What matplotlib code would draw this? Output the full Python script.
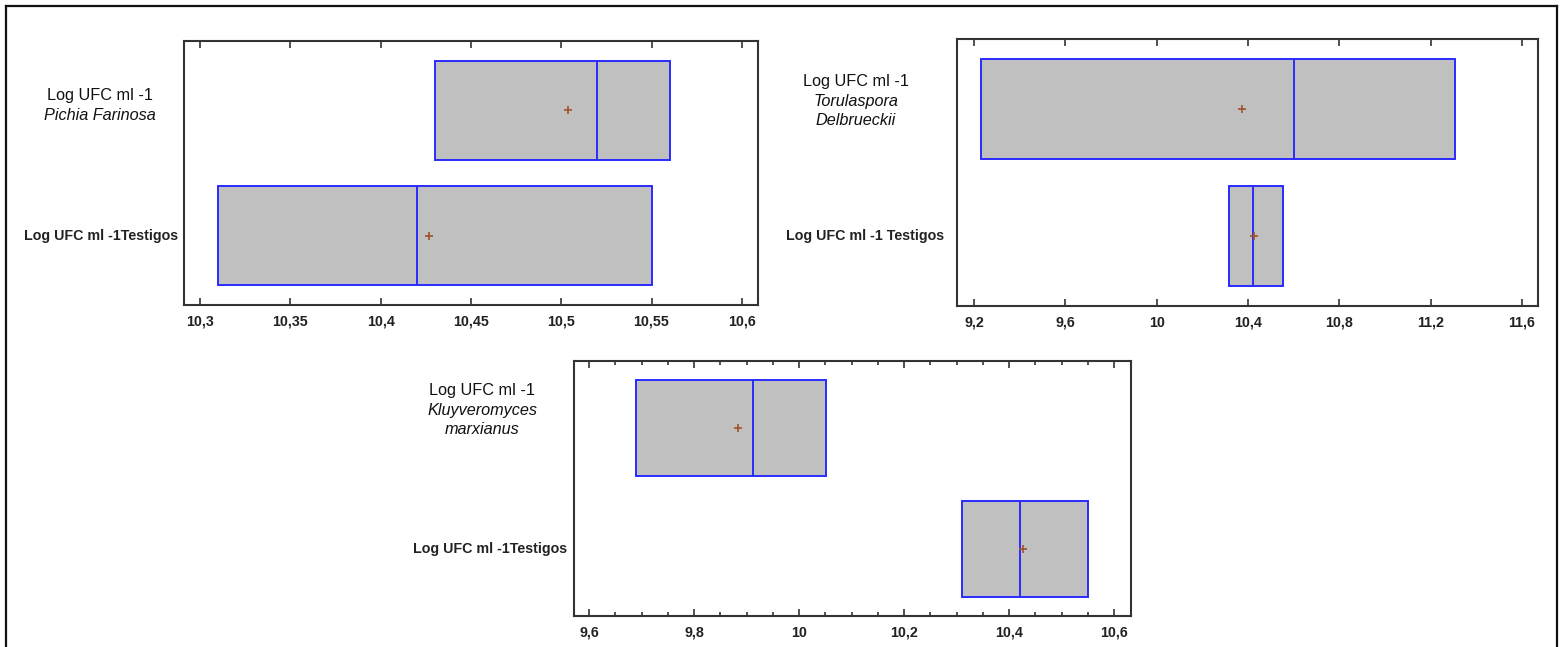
import matplotlib
matplotlib.use("Agg")
import matplotlib.pyplot as plt
from matplotlib.lines import Line2D
from matplotlib.ticker import FuncFormatter, MultipleLocator

plt.rcParams['font.family'] = ['Liberation Sans', 'DejaVu Sans']

# box summaries per panel: [q1, median, q3, mean]  (row 0 = Testigos, row 1 = species)
species = ["Pichia Farinosa", "Torulaspora\nDelbrueckii", "Kluyveromyces\nmarxianus"]
testigo_labels = ["Log UFC ml -1Testigos", "Log UFC ml -1 Testigos", "Log UFC ml -1Testigos"]
q1 = [[10.31, 10.43], [10.317, 9.23], [10.31, 9.69]]
median = [[10.42, 10.52], [10.422, 10.60], [10.42, 9.912]]
q3 = [[10.55, 10.56], [10.554, 11.305], [10.55, 10.051]]
mean = [[10.427, 10.504], [10.427, 10.374], [10.427, 9.884]]

xlims = [(10.291, 10.609), (9.125, 11.67), (9.571, 10.632)]
major_step = [0.05, 0.4, 0.2]
minor_step = [None, None, 0.05]
x0 = [10.3, 9.2, 9.6]

W, H = 1564, 647
# axes boxes in pixels: left, right, top, bottom
boxes_px = [(184, 758, 41, 305), (957, 1538, 39, 306), (574, 1131, 361, 616)]
# label layout in pixels relative to axes left / category centre
species_dx = [-84, -101, -92]
header_dy = [15, 28, 38]
bold_dx = [-6, -13, -7]

box_h = 0.79
fig = plt.figure(figsize=(W / 100, H / 100), dpi=100)

# outer frame
for xs, ys in [((6, 1557), (6, 6)), ((6, 6), (6, 660)), ((1557, 1557), (6, 660))]:
    fig.add_artist(Line2D([x / W for x in xs], [1 - y / H for y in ys],
                          color='#111111', lw=1.6, transform=fig.transFigure))

comma = FuncFormatter(lambda v, p: ('%g' % round(v, 4)).replace('.', ','))

for i in range(3):
    l, r, t, b = boxes_px[i]
    ax = fig.add_axes([l / W, 1 - b / H, (r - l) / W, (b - t) / H])
    for k in range(2):
        ax.barh(k, q3[i][k] - q1[i][k], left=q1[i][k], height=box_h,
                color='#c0c0c0', edgecolor='#2a2aff', linewidth=1.4, zorder=2)
        ax.vlines(median[i][k], k - box_h / 2, k + box_h / 2, color='#2a2aff', lw=1.4, zorder=3)
        ax.plot(mean[i][k], k, '+', color='#a0522d', ms=6, mew=1.2, zorder=4)

    ax.set_xlim(*xlims[i])
    ax.set_ylim(-0.555, 1.555)
    ax.xaxis.set_major_locator(MultipleLocator(major_step[i], offset=x0[i]))
    if minor_step[i]:
        ax.xaxis.set_minor_locator(MultipleLocator(minor_step[i]))
    ax.xaxis.set_major_formatter(comma)
    ax.tick_params(axis='x', which='both', direction='in', top=True, bottom=True,
                   colors='#333333', labelcolor='#222222', pad=15, width=1.2)
    ax.tick_params(axis='x', which='major', length=5)
    ax.tick_params(axis='x', which='minor', length=3)
    for lab in ax.get_xticklabels():
        lab.set_fontweight('bold')
        lab.set_fontsize(10.3)
        lab.set_verticalalignment('baseline')
    ax.set_yticks([])
    for s in ax.spines.values():
        s.set_color('#333333')
        s.set_linewidth(1.5)

    ax.annotate(testigo_labels[i], xy=(0, 0), xycoords=('axes fraction', 'data'),
                xytext=(bold_dx[i], 0), textcoords='offset pixels',
                ha='right', va='center', fontsize=10.3, fontweight='bold', color='#222222')
    ax.annotate("Log UFC ml -1", xy=(0, 1), xycoords=('axes fraction', 'data'),
                xytext=(species_dx[i], header_dy[i]), textcoords='offset pixels',
                ha='center', va='center', fontsize=11.7, color='#111111')
    ax.annotate(species[i], xy=(0, 1), xycoords=('axes fraction', 'data'),
                xytext=(species_dx[i], header_dy[i] - 20 - 10 * species[i].count('\n')),
                textcoords='offset pixels', ha='center', va='center', fontsize=11.7,
                style='italic', color='#111111', linespacing=1.3)

fig.savefig("out.png", dpi=100)
